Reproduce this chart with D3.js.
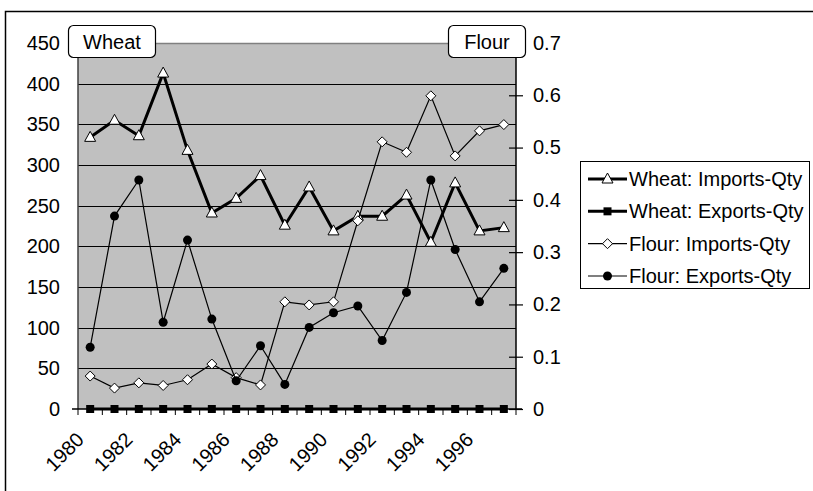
<!DOCTYPE html>
<html>
<head>
<meta charset="utf-8">
<script src="https://cdn.jsdelivr.net/npm/d3@7"></script>
<style>
  body { margin: 0; background: #fff; }
  text { font-family: "Liberation Sans", Arial, sans-serif; }
</style>
</head>
<body>
<div id="chart"></div>
<script>

var years = ['1980','1981','1982','1983','1984','1985','1986','1987','1988',
             '1989','1990','1991','1992','1993','1994','1995','1996','1997'];
var yearLabels = ['1980','1982','1984','1986','1988','1990','1992','1994','1996'];

// wheat on the left axis
var wheatImports = [334, 355, 336, 413, 318, 241, 259, 287, 226, 273, 219, 237, 237, 263, 205, 278, 219, 223];
var wheatExports = [0, 0, 0, 0, 0, 0, 0, 0, 0, 0, 0, 0, 0, 0, 0, 0, 0, 0];
// flour on the right axis
var flourImports = [0.063, 0.040, 0.050, 0.045, 0.056, 0.086, 0.060, 0.046, 0.205, 0.199, 0.205, 0.360,
                    0.511, 0.491, 0.599, 0.484, 0.532, 0.544];
var flourExports = [0.118, 0.369, 0.438, 0.166, 0.323, 0.172, 0.054, 0.121, 0.047, 0.156, 0.184, 0.197,
                    0.131, 0.223, 0.438, 0.305, 0.205, 0.269];

var leftTicks = [0, 50, 100, 150, 200, 250, 300, 350, 400, 450];
var rightTicks = [0, 0.1, 0.2, 0.3, 0.4, 0.5, 0.6, 0.7];

var series = [
  {name: 'Wheat: Imports-Qty', values: wheatImports, axis: 'left', marker: 'triangle', width: 3},
  {name: 'Wheat: Exports-Qty', values: wheatExports, axis: 'left', marker: 'square', width: 3},
  {name: 'Flour: Imports-Qty', values: flourImports, axis: 'right', marker: 'diamond', width: 1.2},
  {name: 'Flour: Exports-Qty', values: flourExports, axis: 'right', marker: 'circle', width: 1.2}
];

var W = 813, H = 491;
var plotL = 78, plotR = 516, plotT = 43, plotB = 409;
var fs = 20;

var svg = d3.select('#chart').append('svg')
  .attr('width', W)
  .attr('height', H);

svg.append('rect').attr('width', W).attr('height', H).attr('fill', '#fff');

// outer frame (runs off right and bottom)
svg.append('rect')
  .attr('x', 5.5).attr('y', 11.5)
  .attr('width', 900).attr('height', 600)
  .attr('fill', 'none').attr('stroke', '#000').attr('stroke-width', 1.5);

var x = d3.scaleBand().domain(years).range([plotL, plotR]).paddingInner(0).paddingOuter(0);
var cx = function(d){ return x(d) + x.bandwidth() / 2; };
var yL = d3.scaleLinear().domain([0, 450]).range([plotB, plotT]);
var yR = d3.scaleLinear().domain([0, 0.7]).range([plotB, plotT]);

// plot background
svg.append('rect')
  .attr('x', plotL).attr('y', plotT)
  .attr('width', plotR - plotL).attr('height', plotB - plotT)
  .attr('fill', '#c0c0c0');

// gridlines
svg.append('g').selectAll('line')
  .data(leftTicks.filter(function(d){ return d > 0 && d < 450; }))
  .enter().append('line')
  .attr('x1', plotL).attr('x2', plotR)
  .attr('y1', function(d){ return Math.round(yL(d)) + 0.5; })
  .attr('y2', function(d){ return Math.round(yL(d)) + 0.5; })
  .attr('stroke', '#000').attr('stroke-width', 1);

svg.append('line')
  .attr('x1', plotL).attr('x2', plotR)
  .attr('y1', plotT + 0.5).attr('y2', plotT + 0.5)
  .attr('stroke', '#808080').attr('stroke-width', 1.5);

// left axis
var leftAxis = svg.append('g')
  .attr('transform', 'translate(' + plotL + ',0)')
  .call(d3.axisLeft(yL).tickValues(leftTicks).tickSize(0).tickPadding(18));
leftAxis.select('.domain').remove();
leftAxis.selectAll('text').attr('font-size', fs).attr('fill', '#000')
  .style('font-family', '"Liberation Sans", Arial, sans-serif');
svg.append('line')
  .attr('x1', plotL).attr('x2', plotL)
  .attr('y1', plotT).attr('y2', plotB)
  .attr('stroke', '#404040').attr('stroke-width', 1.5);

// right axis
var rightAxis = svg.append('g')
  .attr('transform', 'translate(' + plotR + ',0)')
  .call(d3.axisRight(yR).tickValues(rightTicks).tickSize(7).tickPadding(10)
    .tickFormat(function(d){ return d === 0 ? '0' : d3.format('.1f')(d); }));
rightAxis.select('.domain').remove();
rightAxis.selectAll('.tick line').attr('x1', -7).attr('stroke', '#000').attr('stroke-width', 1.2);
rightAxis.selectAll('text').attr('font-size', fs).attr('fill', '#000')
  .style('font-family', '"Liberation Sans", Arial, sans-serif');
svg.append('line')
  .attr('x1', plotR).attr('x2', plotR)
  .attr('y1', plotT).attr('y2', plotB)
  .attr('stroke', '#000').attr('stroke-width', 1.5);

// x axis
svg.append('line')
  .attr('x1', plotL - 6).attr('x2', plotR + 6)
  .attr('y1', plotB).attr('y2', plotB)
  .attr('stroke', '#000').attr('stroke-width', 1.5);
svg.append('g').selectAll('line')
  .data(years)
  .enter().append('line')
  .attr('x1', function(d){ return x(d); })
  .attr('x2', function(d){ return x(d); })
  .attr('y1', plotB).attr('y2', plotB + 6)
  .attr('stroke', '#000').attr('stroke-width', 1);
svg.append('line')
  .attr('x1', plotR).attr('x2', plotR)
  .attr('y1', plotB).attr('y2', plotB + 6)
  .attr('stroke', '#000');

svg.append('g').selectAll('text')
  .data(yearLabels)
  .enter().append('text')
  .attr('transform', function(d){ return 'translate(' + (cx(d) - 5) + ',' + (plotB + 32) + ') rotate(-45)'; })
  .attr('text-anchor', 'end')
  .attr('font-size', fs)
  .text(function(d){ return d; });

// markers
function drawMarker(g, type, px, py) {
  if (type === 'triangle') {
    g.append('path')
      .attr('d', 'M' + px + ',' + (py - 6) + 'L' + (px + 5.5) + ',' + (py + 4) + 'L' + (px - 5.5) + ',' + (py + 4) + 'Z')
      .attr('fill', '#fff').attr('stroke', '#000').attr('stroke-width', 1);
  } else if (type === 'square') {
    g.append('rect')
      .attr('x', px - 4).attr('y', py - 4).attr('width', 8).attr('height', 8)
      .attr('fill', '#000');
  } else if (type === 'diamond') {
    g.append('path')
      .attr('d', 'M' + px + ',' + (py - 5) + 'L' + (px + 5) + ',' + py + 'L' + px + ',' + (py + 5) + 'L' + (px - 5) + ',' + py + 'Z')
      .attr('fill', '#fff').attr('stroke', '#000').attr('stroke-width', 1);
  } else {
    g.append('circle').attr('cx', px).attr('cy', py).attr('r', 4.5).attr('fill', '#000');
  }
}

series.forEach(function(s){
  var yScale = s.axis === 'left' ? yL : yR;
  var line = d3.line()
    .x(function(d, i){ return cx(years[i]); })
    .y(function(d){ return yScale(d); });
  var g = svg.append('g');
  g.append('path')
    .datum(s.values)
    .attr('d', line)
    .attr('fill', 'none')
    .attr('stroke', '#000')
    .attr('stroke-width', s.width)
    .attr('stroke-linejoin', 'miter');
  s.values.forEach(function(v, i){
    drawMarker(g, s.marker, cx(years[i]), yScale(v));
  });
});

// axis title boxes
function titleBox(label, bx, by, bw, bh) {
  svg.append('rect')
    .attr('x', bx).attr('y', by).attr('width', bw).attr('height', bh)
    .attr('rx', 5).attr('ry', 5)
    .attr('fill', '#fff').attr('stroke', '#000').attr('stroke-width', 1.2);
  svg.append('text')
    .attr('x', bx + bw / 2).attr('y', by + bh / 2)
    .attr('dy', '0.35em')
    .attr('text-anchor', 'middle')
    .attr('font-size', fs)
    .text(label);
}
titleBox('Wheat', 68.5, 25.5, 87, 32);
titleBox('Flour', 448.5, 25.5, 77, 32);

// legend
var legend = svg.append('g');
legend.append('rect')
  .attr('x', 580.5).attr('y', 161.5).attr('width', 229).attr('height', 127)
  .attr('fill', '#fff').attr('stroke', '#000').attr('stroke-width', 1);
var legendY = d3.scalePoint().domain(series.map(function(s){ return s.name; })).range([179, 276]);
series.forEach(function(s){
  var ly = legendY(s.name);
  var g = legend.append('g');
  g.append('line')
    .attr('x1', 588).attr('x2', 627)
    .attr('y1', ly).attr('y2', ly)
    .attr('stroke', '#000').attr('stroke-width', s.width);
  drawMarker(g, s.marker, 607.5, ly);
  g.append('text')
    .attr('x', 629).attr('y', ly).attr('dy', '0.35em')
    .attr('font-size', fs)
    .text(s.name);
});

</script>
</body>
</html>
